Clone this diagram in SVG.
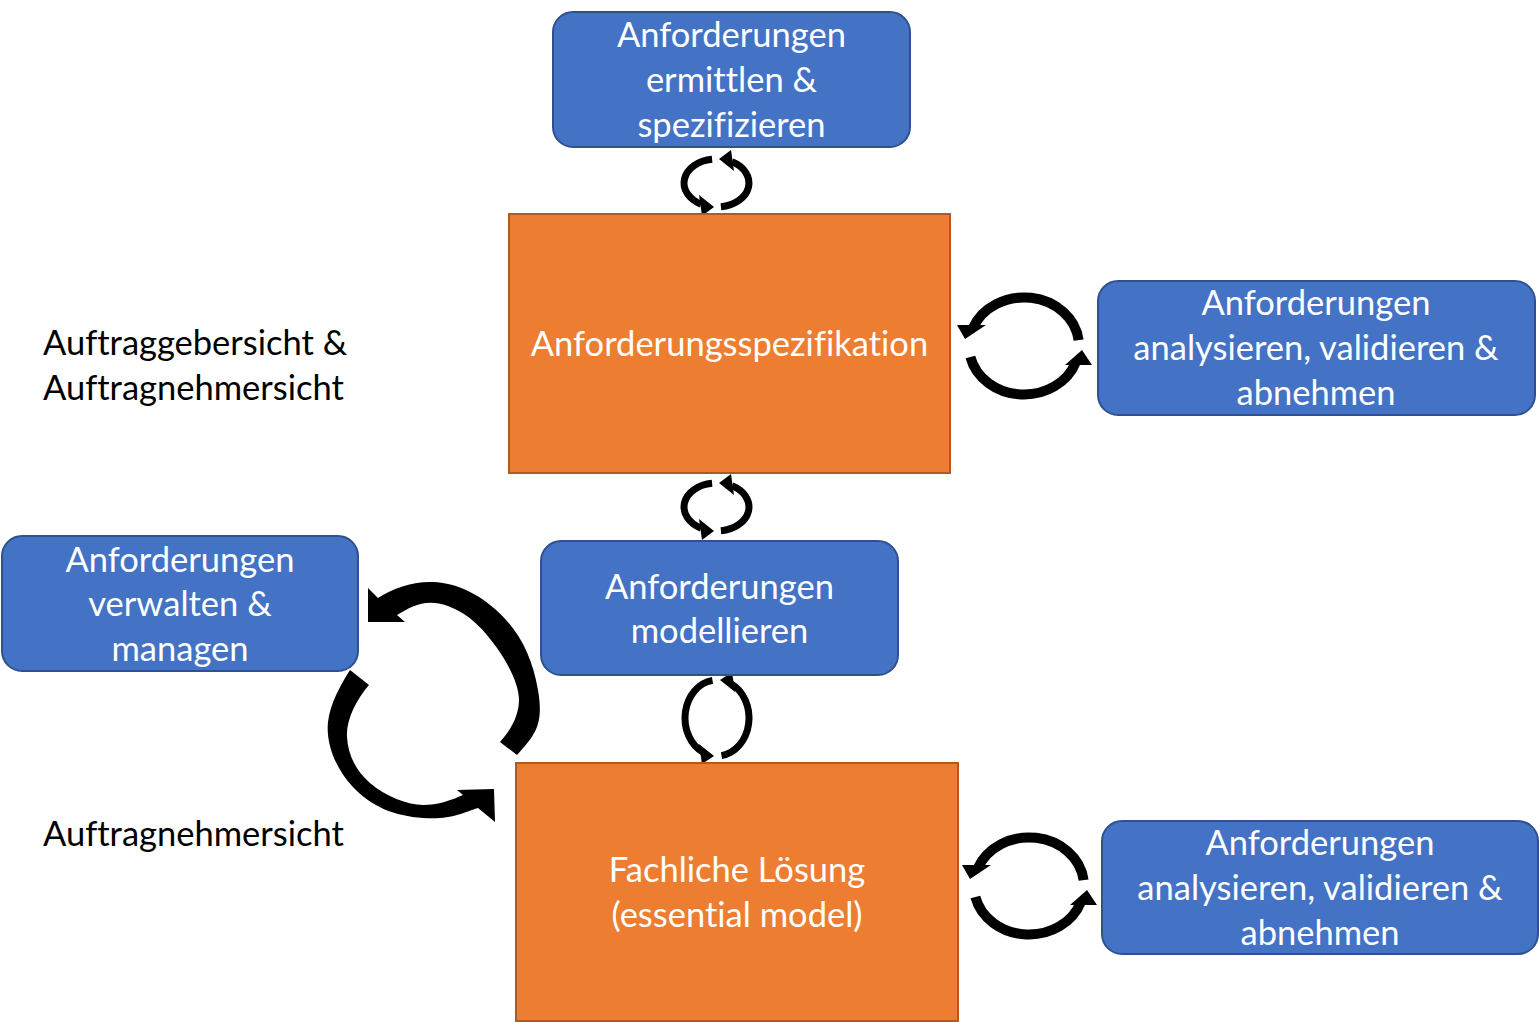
<svg xmlns="http://www.w3.org/2000/svg" xmlns:xlink="http://www.w3.org/1999/xlink" width="1540" height="1022" viewBox="0 0 1540 1022">
<style>
.blue{fill:#4472C4;stroke:#2F528F;stroke-width:2}
.orange{fill:#ED7D31;stroke:#AE5A21;stroke-width:2}
text{font-family:Lato,"Open Sans","Liberation Sans",sans-serif;font-size:34.5px;font-variant-ligatures:none;font-feature-settings:"liga" 0,"clig" 0,"dlig" 0}
.wt{fill:#FFFFFF;text-anchor:middle}
.bt{fill:#000000}
.arc{fill:none;stroke:#000000}
.s7{stroke-width:7}
.s10{stroke-width:10}
.head{fill:#000000}
</style>
<defs>
<g id="halfA">
<path class="arc s7" d="M712.1,159.2 A32,24 0 0,0 701,204.2"/>
<polygon class="head" points="699,195 702,216 714,207"/>
</g>
<g id="halfC">
<path class="arc s7" d="M712.5,680.4 A32,38 0 0,0 703,752.2"/>
<polygon class="head" points="699,744 702,764 714,756"/>
</g>
<g id="loopD">
<path class="arc s10" d="M1078.6,340.1 A55,48.5 0 0,0 972.9,328"/>
<polygon class="head" points="957,325 986,325 965,339"/>
<path class="arc s10" d="M970.4,357 A55,48.5 0 0,0 1075.9,362"/>
<polygon class="head" points="1065,365 1092,365 1082,350"/>
</g>
</defs>
<rect width="1540" height="1022" fill="#FFFFFF"/>

<g id="connectors">
<g id="loop-ermitteln-spezifikation">
<use xlink:href="#halfA"/>
<use xlink:href="#halfA" transform="rotate(180 716.5 183)"/>
</g>
<g id="loop-spezifikation-modellieren">
<use xlink:href="#halfA" transform="translate(0,324)"/>
<use xlink:href="#halfA" transform="translate(0,324) rotate(180 716.5 183)"/>
</g>
<g id="loop-modellieren-loesung">
<use xlink:href="#halfC"/>
<use xlink:href="#halfC" transform="rotate(180 717 718)"/>
</g>
<g id="loop-spezifikation-analysieren">
<use xlink:href="#loopD"/>
</g>
<g id="loop-loesung-analysieren">
<use xlink:href="#loopD" transform="translate(5,540)"/>
</g>
<g id="loop-verwalten">
<path class="head" d="M368,622 L368,588 L378,598 C392,589 410,582 430,582 S472,589 495,609 S532,655 538,690 S535,735 517,755 L500,742 C511,730 519,715 519,700 S509,665 497,648 S470,614 448,606 S412,606 397,615 L405,622 Z"/>
<path class="head" d="M350,670 C340,686 330,704 328,722 S333,765 352,786 S395,816 423,818 S462,813 478,808 L495,822 L494,789 L457,790 L463,795 C452,800 438,805 423,805 S385,796 370,783 S348,754 347,737 S356,700 369,685 Z"/>
</g>
</g>

<g id="node-ermitteln">
<rect class="blue" x="553" y="12" width="357" height="135" rx="20"/>
<text class="wt" x="731.5" y="47">Anforderungen</text>
<text class="wt" x="731.5" y="92">ermittlen &amp;</text>
<text class="wt" x="731.5" y="137">spezifizieren</text>
</g>

<g id="node-spezifikation">
<rect class="orange" x="509" y="214" width="441" height="259"/>
<text class="wt" x="729.5" y="356">Anforderungsspezifikation</text>
</g>

<g id="node-analysieren-1">
<rect class="blue" x="1098" y="281" width="437" height="134" rx="20"/>
<text class="wt" x="1316" y="315">Anforderungen</text>
<text class="wt" x="1316" y="360">analysieren, validieren &amp;</text>
<text class="wt" x="1316" y="405">abnehmen</text>
</g>

<g id="label-sicht-1">
<text class="bt" x="43" y="355">Auftraggebersicht &amp;</text>
<text class="bt" x="43" y="400">Auftragnehmersicht</text>
</g>

<g id="node-verwalten">
<rect class="blue" x="2" y="536" width="356" height="135" rx="20"/>
<text class="wt" x="180" y="572">Anforderungen</text>
<text class="wt" x="180" y="616">verwalten &amp;</text>
<text class="wt" x="180" y="661">managen</text>
</g>

<g id="node-modellieren">
<rect class="blue" x="541" y="541" width="357" height="134" rx="20"/>
<text class="wt" x="719.5" y="599">Anforderungen</text>
<text class="wt" x="719.5" y="643">modellieren</text>
</g>

<g id="label-sicht-2">
<text class="bt" x="43" y="846">Auftragnehmersicht</text>
</g>

<g id="node-loesung">
<rect class="orange" x="516" y="763" width="442" height="258"/>
<text class="wt" x="737" y="882">Fachliche Lösung</text>
<text class="wt" x="737" y="927">(essential model)</text>
</g>

<g id="node-analysieren-2">
<rect class="blue" x="1102" y="821" width="436" height="133" rx="20"/>
<text class="wt" x="1320" y="855">Anforderungen</text>
<text class="wt" x="1320" y="900">analysieren, validieren &amp;</text>
<text class="wt" x="1320" y="945">abnehmen</text>
</g>
</svg>
